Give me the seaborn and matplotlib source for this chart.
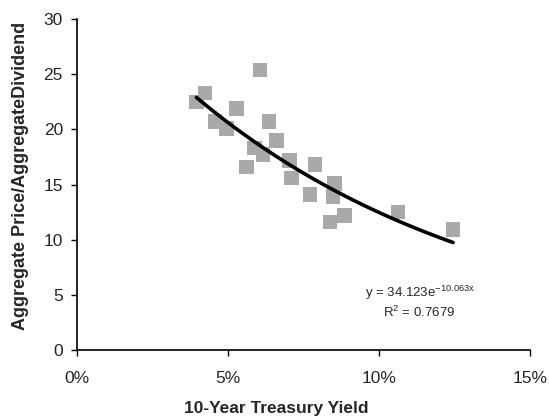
import numpy as np
import pandas as pd
import matplotlib
matplotlib.use("Agg")
import matplotlib.pyplot as plt
import matplotlib.ticker as tkr
import seaborn as sns

# 10-year treasury yield (%) vs aggregate price / aggregate dividend
yield_pct = [3.96, 4.24, 4.57, 4.96, 5.29, 5.62, 5.89, 6.06, 6.17, 6.37, 6.61,
             7.05, 7.10, 7.88, 7.72, 8.54, 8.48, 8.87, 8.38, 10.64, 12.46]
pd_ratio = [22.5, 23.3, 20.7, 20.1, 21.9, 16.6, 18.3, 25.4, 17.7, 20.7, 19.0,
            17.2, 15.6, 16.8, 14.1, 15.1, 13.9, 12.2, 11.6, 12.5, 10.9]

# exponential trendline coefficients (as printed on chart)
fit_a = 34.123
fit_b = -10.063
fit_r2 = 0.7679

sns.set_theme(style="white")
plt.rcParams['font.family'] = ['Liberation Sans', 'DejaVu Sans']
plt.rcParams['mathtext.fontset'] = 'custom'
plt.rcParams['mathtext.rm'] = 'Liberation Sans'
plt.rcParams['mathtext.it'] = 'Liberation Sans'

df = pd.DataFrame({"x": np.array(yield_pct) / 100.0, "y": pd_ratio})
xs = np.linspace(df.x.min(), df.x.max(), 100)
trend = pd.DataFrame({"x": xs, "y": fit_a * np.exp(fit_b * xs)})

fig = plt.figure(figsize=(5.49, 4.17), dpi=100)
ax = fig.add_axes([0.140, 0.161, 0.825, 0.793])

sns.scatterplot(data=df, x="x", y="y", ax=ax, marker="s", s=110,
                color="#a9a9a9", edgecolor="none", zorder=2)
sns.lineplot(data=trend, x="x", y="y", ax=ax, color="black", lw=2.6, zorder=3)

ax.set_xlim(0, 0.15)
ax.set_ylim(0, 30)
ax.set_xticks([0, 0.05, 0.10, 0.15])
ax.set_yticks(range(0, 31, 5))
ax.xaxis.set_major_formatter(tkr.FuncFormatter(lambda v, p: "{:.0f}%".format(v * 100)))

for s in ["top", "right"]:
    ax.spines[s].set_visible(False)
for s in ["left", "bottom"]:
    ax.spines[s].set_color("black")
    ax.spines[s].set_linewidth(1.2)

ax.tick_params(axis="both", direction="out", length=4, width=1, color="black",
               labelsize=12.5, left=True, bottom=True)
ax.tick_params(axis="x", pad=11)
ax.tick_params(axis="y", pad=6)

ax.set_xlabel("10-Year Treasury Yield", fontsize=12.5, fontweight="bold")
ax.xaxis.set_label_coords(0.44, -0.155)
ax.set_ylabel("Aggregate Price/AggregateDividend", fontsize=13, fontweight="bold")
ax.yaxis.set_label_coords(-0.105, 0.525)

eq_text = r"y = {}e$^{{\mathrm{{{}x}}}}$".format(fit_a, fit_b)
r2_text = r"R$^{{\mathrm{{2}}}}$ = {}".format(fit_r2)
ax.text(0.1135, 5.2, eq_text, fontsize=9.5, ha="center", va="center")
ax.text(0.1135, 3.4, r2_text, fontsize=9.5, ha="center", va="center")

plt.savefig("out.png", dpi=100)
